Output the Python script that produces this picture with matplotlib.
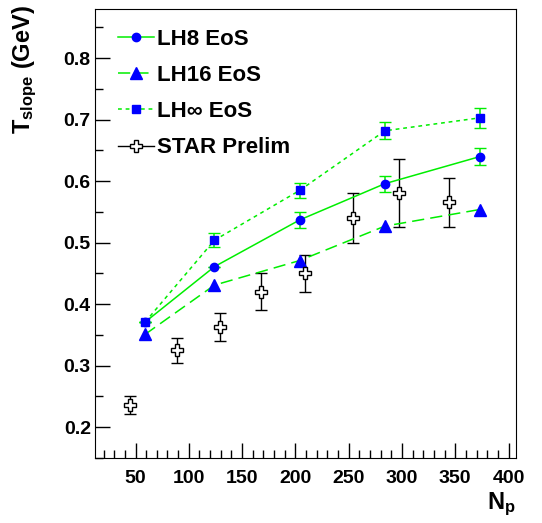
import matplotlib
matplotlib.use("Agg")
import matplotlib.pyplot as plt
from matplotlib.lines import Line2D
from matplotlib.ticker import MultipleLocator

plt.rcParams['font.family'] = ['Liberation Sans', 'DejaVu Sans']
plt.rcParams['font.weight'] = 'bold'
plt.rcParams['mathtext.fontset'] = 'custom'
plt.rcParams['mathtext.rm'] = 'Liberation Sans:bold'
plt.rcParams['mathtext.bf'] = 'Liberation Sans:bold'
plt.rcParams['mathtext.it'] = 'Liberation Sans:bold'

# model curves (hydro with different EoS)
n_part = [59, 124, 204, 284, 373]
lh8 = [0.371, 0.461, 0.537, 0.596, 0.640]
lh8_err = [0.0, 0.0, 0.013, 0.013, 0.014]
lh16 = [0.351, 0.431, 0.471, 0.527, 0.554]
lhinf = [0.371, 0.504, 0.585, 0.682, 0.703]
lhinf_err = [0.0, 0.011, 0.012, 0.014, 0.016]

# STAR preliminary
star_np = [44.6, 89, 128.9, 168, 209, 254.4, 297.6, 344.5]
star_t = [0.236, 0.325, 0.363, 0.420, 0.450, 0.540, 0.581, 0.566]
star_err = [0.015, 0.020, 0.022, 0.030, 0.030, 0.041, 0.055, 0.040]

green = '#00ee00'
blue = '#0000ff'
dash16 = (0, (8, 4))
dotinf = (0, (2.5, 2.5))

fig = plt.figure(figsize=(5.42, 5.23), dpi=100)
ax = fig.add_axes([0.1753, 0.1243, 0.7767, 0.8585])

ax.errorbar(n_part, lh8, yerr=lh8_err, color=green, lw=1.1, ls='-',
            marker='o', ms=6, mfc=blue, mec=blue, capsize=4)
ax.errorbar(n_part, lh16, color=green, lw=1.1, ls=dash16,
            marker='^', ms=9, mfc=blue, mec=blue)
ax.errorbar(n_part, lhinf, yerr=lhinf_err, color=green, lw=1.1, ls=dotinf,
            marker='s', ms=6, mfc=blue, mec=blue, capsize=4)
ax.errorbar(star_np, star_t, yerr=star_err, color='black', lw=1.0, ls='none',
            marker='P', ms=9, mfc='white', mec='black', mew=1.0, capsize=4)

ax.set_xlim(12, 407)
ax.set_ylim(0.15, 0.88)
ax.xaxis.set_major_locator(MultipleLocator(50))
ax.xaxis.set_minor_locator(MultipleLocator(10))
ax.yaxis.set_major_locator(MultipleLocator(0.1))
ax.yaxis.set_minor_locator(MultipleLocator(0.05))
ax.tick_params(which='both', direction='in', top=False, right=False, width=1)
ax.tick_params(which='major', length=11)
ax.tick_params(which='minor', length=6)
ax.tick_params(axis='x', pad=9)
ax.tick_params(axis='y', pad=3)
ax.set_xticks([50, 100, 150, 200, 250, 300, 350, 400])
ax.set_yticks([0.2, 0.3, 0.4, 0.5, 0.6, 0.7, 0.8])
ax.set_yticklabels(['0.2', '0.3', '0.4', '0.5', '0.6', '0.7', '0.8'], fontsize=14, fontweight='bold')
ax.set_xticklabels(['50', '100', '150', '200', '250', '300', '350', '400'], fontsize=14, fontweight='bold')

fig.text(0.045, 0.99, r'$\mathrm{T_{slope}}$ (GeV)', rotation=90, ha='center', va='top',
         fontsize=17, fontweight='bold')
fig.text(0.951, 0.010, r'$\mathrm{N_{p}}$', ha='right', va='bottom',
         fontsize=17, fontweight='bold')

handles = [
    Line2D([], [], color=green, lw=1.1, ls='-', marker='o', ms=6, mfc=blue, mec=blue),
    Line2D([], [], color=green, lw=1.1, ls=dash16, marker='^', ms=9, mfc=blue, mec=blue),
    Line2D([], [], color=green, lw=1.1, ls=dotinf, marker='s', ms=6, mfc=blue, mec=blue),
    Line2D([], [], color='black', lw=1.0, ls='-', marker='P', ms=9, mfc='white', mec='black'),
]
labels = ['LH8 EoS', 'LH16 EoS', 'LH\u221e EoS', 'STAR Prelim']
ax.legend(handles, labels, loc='upper left', bbox_to_anchor=(0.008, 1.0), frameon=False,
          prop={'size': 16, 'weight': 'bold'}, handlelength=1.6,
          labelspacing=0.68, handletextpad=0.15)

fig.savefig('out.png', dpi=100)
